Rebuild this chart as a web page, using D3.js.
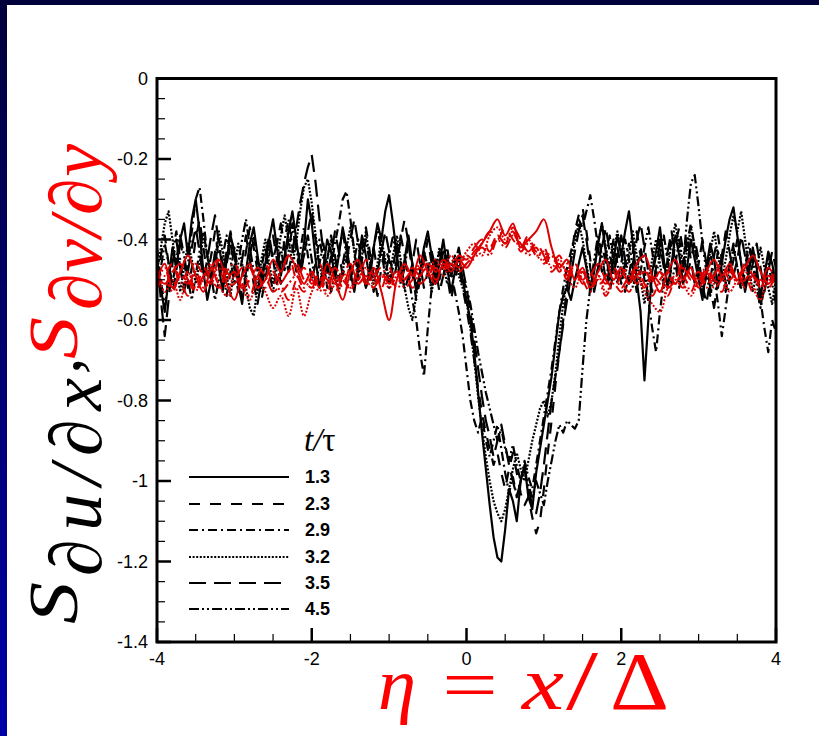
<!DOCTYPE html>
<html><head><meta charset="utf-8">
<script src="https://cdn.jsdelivr.net/npm/d3@7"></script>
<style>
html,body{margin:0;padding:0;}
body{width:819px;height:736px;overflow:hidden;background:linear-gradient(#00003a,#0000a8);}
</style></head>
<body>
<svg id="chart" width="819" height="736"></svg>
<script>
// ---- data ----
// black curves sampled every 0.05 in eta, red curves every 0.1
const etaU = d3.range(161).map(i => +(-4 + i * 0.05).toFixed(2));
const etaV = d3.range(81).map(i => +(-4 + i * 0.1).toFixed(1));
const times = ["1.3", "2.3", "2.9", "3.2", "3.5", "4.5"];
const xTicks = [-4, -2, 0, 2, 4];
const yTicks = [0, -0.2, -0.4, -0.6, -0.8, -1, -1.2, -1.4];

const su_13 = [
 -0.46,-0.52,-0.58,-0.50,-0.42,-0.47,-0.40,-0.36,-0.44,-0.35,
 -0.30,-0.38,-0.48,-0.55,-0.50,-0.43,-0.47,-0.53,-0.45,-0.39,
 -0.43,-0.51,-0.56,-0.48,-0.41,-0.37,-0.44,-0.50,-0.46,-0.40,
 -0.35,-0.42,-0.49,-0.44,-0.38,-0.33,-0.40,-0.47,-0.41,-0.30,
 -0.36,-0.45,-0.52,-0.47,-0.40,-0.43,-0.50,-0.44,-0.37,-0.42,
 -0.48,-0.53,-0.46,-0.39,-0.44,-0.50,-0.42,-0.36,-0.40,-0.33,
 -0.29,-0.36,-0.44,-0.50,-0.45,-0.39,-0.46,-0.53,-0.48,-0.42,
 -0.38,-0.44,-0.51,-0.46,-0.40,-0.47,-0.53,-0.48,-0.44,-0.50,
 -0.55,-0.60,-0.68,-0.78,-0.88,-0.97,-1.06,-1.14,-1.19,-1.20,
 -1.12,-1.02,-1.05,-1.10,-1.00,-0.96,-1.04,-1.07,-0.98,-0.92,
 -0.86,-0.80,-0.74,-0.66,-0.58,-0.54,-0.52,-0.55,-0.50,-0.46,
 -0.42,-0.47,-0.53,-0.48,-0.41,-0.36,-0.43,-0.50,-0.45,-0.39,
 -0.44,-0.38,-0.33,-0.41,-0.50,-0.58,-0.75,-0.60,-0.48,-0.43,
 -0.37,-0.45,-0.52,-0.46,-0.39,-0.44,-0.51,-0.47,-0.40,-0.45,
 -0.50,-0.55,-0.47,-0.41,-0.45,-0.52,-0.46,-0.40,-0.35,-0.32,
 -0.39,-0.46,-0.53,-0.48,-0.42,-0.47,-0.54,-0.49,-0.43,-0.46,
 -0.51];
const su_23 = [
 -0.50,-0.44,-0.39,-0.46,-0.53,-0.48,-0.41,-0.45,-0.52,-0.47,
 -0.40,-0.35,-0.42,-0.49,-0.44,-0.38,-0.45,-0.51,-0.46,-0.41,
 -0.47,-0.53,-0.49,-0.43,-0.37,-0.42,-0.48,-0.55,-0.50,-0.44,
 -0.39,-0.45,-0.51,-0.46,-0.40,-0.36,-0.43,-0.49,-0.44,-0.38,
 -0.33,-0.40,-0.47,-0.52,-0.45,-0.39,-0.44,-0.50,-0.46,-0.41,
 -0.46,-0.52,-0.48,-0.42,-0.37,-0.43,-0.49,-0.54,-0.47,-0.42,
 -0.45,-0.51,-0.46,-0.40,-0.35,-0.41,-0.48,-0.55,-0.50,-0.45,
 -0.40,-0.46,-0.52,-0.48,-0.43,-0.49,-0.55,-0.50,-0.46,-0.52,
 -0.57,-0.63,-0.70,-0.77,-0.83,-0.88,-0.92,-0.96,-0.93,-0.98,
 -1.02,-0.97,-0.93,-0.98,-1.03,-1.06,-1.04,-1.09,-1.13,-1.10,
 -1.02,-0.93,-0.85,-0.76,-0.68,-0.60,-0.52,-0.45,-0.38,-0.34,
 -0.32,-0.38,-0.45,-0.51,-0.47,-0.41,-0.46,-0.53,-0.48,-0.42,
 -0.47,-0.53,-0.49,-0.43,-0.38,-0.44,-0.50,-0.55,-0.49,-0.44,
 -0.40,-0.46,-0.52,-0.47,-0.41,-0.37,-0.43,-0.49,-0.45,-0.40,
 -0.45,-0.51,-0.56,-0.50,-0.44,-0.39,-0.45,-0.51,-0.46,-0.41,
 -0.47,-0.53,-0.48,-0.42,-0.46,-0.52,-0.57,-0.50,-0.44,-0.48,
 -0.53];
const su_29 = [
 -0.42,-0.50,-0.57,-0.49,-0.43,-0.38,-0.45,-0.52,-0.46,-0.38,
 -0.30,-0.27,-0.35,-0.44,-0.51,-0.46,-0.40,-0.47,-0.54,-0.48,
 -0.42,-0.48,-0.55,-0.50,-0.44,-0.39,-0.46,-0.52,-0.47,-0.41,
 -0.45,-0.51,-0.46,-0.40,-0.35,-0.42,-0.48,-0.43,-0.37,-0.44,
 -0.50,-0.46,-0.40,-0.45,-0.52,-0.47,-0.41,-0.36,-0.30,-0.28,
 -0.35,-0.43,-0.50,-0.45,-0.40,-0.46,-0.53,-0.48,-0.42,-0.46,
 -0.52,-0.47,-0.41,-0.46,-0.53,-0.49,-0.55,-0.60,-0.68,-0.74,
 -0.62,-0.52,-0.45,-0.50,-0.46,-0.42,-0.48,-0.53,-0.58,-0.64,
 -0.72,-0.80,-0.85,-0.88,-0.84,-0.90,-0.94,-0.90,-0.86,-0.92,
 -0.98,-1.03,-0.99,-1.04,-1.00,-0.95,-0.99,-1.02,-0.96,-0.90,
 -0.84,-0.78,-0.72,-0.65,-0.58,-0.52,-0.47,-0.43,-0.39,-0.35,
 -0.37,-0.33,-0.29,-0.35,-0.42,-0.48,-0.44,-0.39,-0.45,-0.51,
 -0.46,-0.40,-0.45,-0.52,-0.48,-0.42,-0.47,-0.55,-0.62,-0.68,
 -0.58,-0.50,-0.45,-0.40,-0.46,-0.52,-0.47,-0.41,-0.36,-0.42,
 -0.48,-0.54,-0.49,-0.43,-0.49,-0.56,-0.64,-0.57,-0.50,-0.45,
 -0.40,-0.46,-0.52,-0.47,-0.43,-0.49,-0.55,-0.62,-0.68,-0.60,
 -0.63];
const su_32 = [
 -0.48,-0.42,-0.36,-0.33,-0.40,-0.47,-0.53,-0.47,-0.41,-0.45,
 -0.51,-0.46,-0.39,-0.44,-0.50,-0.45,-0.38,-0.43,-0.49,-0.54,
 -0.47,-0.41,-0.46,-0.52,-0.57,-0.59,-0.52,-0.45,-0.40,-0.46,
 -0.51,-0.45,-0.39,-0.34,-0.40,-0.46,-0.41,-0.33,-0.27,-0.25,
 -0.31,-0.39,-0.46,-0.51,-0.45,-0.40,-0.47,-0.53,-0.48,-0.42,
 -0.37,-0.43,-0.49,-0.44,-0.38,-0.45,-0.51,-0.46,-0.40,-0.45,
 -0.50,-0.44,-0.39,-0.45,-0.52,-0.57,-0.60,-0.54,-0.48,-0.43,
 -0.47,-0.53,-0.48,-0.42,-0.46,-0.51,-0.47,-0.44,-0.49,-0.52,
 -0.55,-0.62,-0.70,-0.79,-0.87,-0.94,-1.00,-1.05,-1.08,-1.10,
 -1.07,-1.02,-0.97,-0.93,-0.97,-1.00,-0.95,-0.90,-0.86,-0.82,
 -0.80,-0.84,-0.80,-0.73,-0.64,-0.56,-0.50,-0.45,-0.41,-0.36,
 -0.40,-0.46,-0.52,-0.47,-0.41,-0.36,-0.42,-0.48,-0.43,-0.38,
 -0.43,-0.49,-0.44,-0.38,-0.44,-0.50,-0.56,-0.50,-0.45,-0.40,
 -0.46,-0.52,-0.47,-0.41,-0.36,-0.42,-0.48,-0.43,-0.37,-0.42,
 -0.47,-0.53,-0.48,-0.43,-0.38,-0.44,-0.50,-0.45,-0.39,-0.34,
 -0.38,-0.33,-0.40,-0.47,-0.53,-0.48,-0.42,-0.47,-0.52,-0.56,
 -0.50];
const su_35 = [
 -0.44,-0.55,-0.64,-0.55,-0.46,-0.40,-0.47,-0.53,-0.48,-0.42,
 -0.37,-0.43,-0.50,-0.45,-0.39,-0.34,-0.41,-0.48,-0.43,-0.38,
 -0.44,-0.50,-0.45,-0.39,-0.45,-0.51,-0.56,-0.50,-0.44,-0.39,
 -0.45,-0.41,-0.36,-0.42,-0.48,-0.43,-0.37,-0.31,-0.26,-0.22,
 -0.19,-0.26,-0.35,-0.43,-0.49,-0.44,-0.38,-0.43,-0.49,-0.45,
 -0.40,-0.35,-0.41,-0.47,-0.52,-0.47,-0.42,-0.48,-0.43,-0.38,
 -0.43,-0.49,-0.45,-0.39,-0.44,-0.50,-0.46,-0.40,-0.46,-0.52,
 -0.48,-0.43,-0.47,-0.53,-0.49,-0.44,-0.49,-0.46,-0.42,-0.47,
 -0.52,-0.58,-0.65,-0.72,-0.79,-0.85,-0.89,-0.94,-0.90,-0.86,
 -0.91,-0.96,-1.00,-1.04,-1.00,-0.97,-1.02,-1.06,-1.08,-1.03,
 -0.96,-0.88,-0.80,-0.74,-0.68,-0.61,-0.55,-0.49,-0.43,-0.38,
 -0.34,-0.40,-0.47,-0.53,-0.48,-0.42,-0.37,-0.43,-0.49,-0.44,
 -0.39,-0.45,-0.51,-0.46,-0.40,-0.36,-0.42,-0.48,-0.53,-0.47,
 -0.41,-0.47,-0.43,-0.38,-0.44,-0.50,-0.45,-0.39,-0.45,-0.51,
 -0.46,-0.40,-0.46,-0.52,-0.57,-0.50,-0.44,-0.38,-0.43,-0.49,
 -0.45,-0.39,-0.44,-0.50,-0.46,-0.41,-0.47,-0.53,-0.48,-0.43,
 -0.47];
const su_45 = [
 -0.52,-0.47,-0.41,-0.46,-0.51,-0.45,-0.39,-0.44,-0.50,-0.55,
 -0.49,-0.43,-0.38,-0.44,-0.49,-0.55,-0.50,-0.44,-0.39,-0.45,
 -0.51,-0.46,-0.40,-0.35,-0.42,-0.48,-0.53,-0.47,-0.42,-0.48,
 -0.53,-0.47,-0.42,-0.48,-0.43,-0.37,-0.42,-0.48,-0.44,-0.39,
 -0.45,-0.51,-0.46,-0.41,-0.47,-0.53,-0.48,-0.43,-0.38,-0.44,
 -0.50,-0.45,-0.40,-0.46,-0.52,-0.48,-0.42,-0.37,-0.43,-0.49,
 -0.44,-0.39,-0.45,-0.51,-0.47,-0.41,-0.46,-0.52,-0.48,-0.43,
 -0.47,-0.52,-0.48,-0.43,-0.47,-0.44,-0.49,-0.45,-0.48,-0.50,
 -0.52,-0.56,-0.62,-0.68,-0.73,-0.78,-0.82,-0.86,-0.90,-0.87,
 -0.92,-0.95,-0.91,-0.96,-1.00,-0.97,-1.01,-1.04,-1.00,-1.03,
 -1.06,-1.00,-0.95,-0.90,-0.86,-0.88,-0.85,-0.86,-0.87,-0.85,
 -0.72,-0.60,-0.52,-0.45,-0.39,-0.44,-0.50,-0.45,-0.40,-0.46,
 -0.51,-0.46,-0.41,-0.47,-0.53,-0.48,-0.42,-0.37,-0.43,-0.49,
 -0.44,-0.39,-0.45,-0.51,-0.46,-0.40,-0.46,-0.35,-0.26,-0.24,
 -0.32,-0.41,-0.48,-0.54,-0.49,-0.43,-0.48,-0.53,-0.47,-0.42,
 -0.47,-0.52,-0.47,-0.41,-0.46,-0.51,-0.57,-0.52,-0.46,-0.51,
 -0.56];

const sv_13 = [-0.50,-0.46,-0.52,-0.48,-0.44,-0.49,-0.53,-0.47,-0.45,-0.51,
 -0.55,-0.49,-0.46,-0.52,-0.50,-0.45,-0.48,-0.44,-0.47,-0.51,
 -0.48,-0.52,-0.46,-0.50,-0.55,-0.48,-0.45,-0.51,-0.47,-0.53,
 -0.60,-0.50,-0.46,-0.49,-0.44,-0.48,-0.51,-0.46,-0.48,-0.45,
 -0.47,-0.44,-0.41,-0.38,-0.35,-0.39,-0.36,-0.42,-0.40,-0.38,
 -0.35,-0.42,-0.47,-0.45,-0.50,-0.47,-0.52,-0.48,-0.45,-0.50,
 -0.47,-0.51,-0.46,-0.44,-0.49,-0.53,-0.48,-0.45,-0.50,-0.47,
 -0.52,-0.48,-0.45,-0.49,-0.46,-0.50,-0.47,-0.44,-0.48,-0.51,-0.48];
const sv_23 = [-0.48,-0.52,-0.47,-0.50,-0.54,-0.46,-0.49,-0.51,-0.45,-0.48,
 -0.50,-0.47,-0.52,-0.49,-0.46,-0.51,-0.48,-0.44,-0.50,-0.53,
 -0.49,-0.46,-0.51,-0.48,-0.52,-0.47,-0.50,-0.45,-0.49,-0.52,
 -0.47,-0.51,-0.48,-0.52,-0.49,-0.47,-0.50,-0.48,-0.46,-0.48,
 -0.46,-0.43,-0.41,-0.38,-0.40,-0.37,-0.40,-0.42,-0.39,-0.43,
 -0.42,-0.46,-0.44,-0.48,-0.47,-0.50,-0.48,-0.52,-0.49,-0.47,
 -0.50,-0.53,-0.49,-0.47,-0.51,-0.48,-0.52,-0.50,-0.46,-0.49,
 -0.51,-0.47,-0.50,-0.53,-0.48,-0.50,-0.46,-0.49,-0.52,-0.48,-0.50];
const sv_29 = [-0.52,-0.49,-0.46,-0.51,-0.48,-0.53,-0.47,-0.50,-0.52,-0.48,
 -0.46,-0.51,-0.54,-0.49,-0.52,-0.48,-0.51,-0.55,-0.50,-0.47,
 -0.51,-0.49,-0.53,-0.47,-0.50,-0.52,-0.48,-0.51,-0.49,-0.47,
 -0.50,-0.48,-0.52,-0.50,-0.47,-0.49,-0.46,-0.47,-0.45,-0.47,
 -0.44,-0.45,-0.41,-0.42,-0.39,-0.41,-0.38,-0.43,-0.41,-0.44,
 -0.45,-0.43,-0.47,-0.49,-0.46,-0.50,-0.53,-0.49,-0.51,-0.48,
 -0.52,-0.49,-0.47,-0.51,-0.54,-0.50,-0.48,-0.51,-0.49,-0.53,
 -0.49,-0.52,-0.48,-0.50,-0.47,-0.51,-0.49,-0.53,-0.50,-0.52,-0.49];
const sv_32 = [-0.47,-0.53,-0.50,-0.55,-0.48,-0.52,-0.50,-0.46,-0.51,-0.54,
 -0.49,-0.52,-0.55,-0.50,-0.53,-0.57,-0.54,-0.59,-0.52,-0.59,
 -0.53,-0.50,-0.54,-0.51,-0.48,-0.52,-0.50,-0.47,-0.51,-0.49,
 -0.52,-0.49,-0.47,-0.50,-0.46,-0.48,-0.45,-0.47,-0.44,-0.46,
 -0.43,-0.41,-0.44,-0.39,-0.37,-0.40,-0.38,-0.42,-0.40,-0.44,
 -0.43,-0.47,-0.45,-0.49,-0.52,-0.48,-0.51,-0.49,-0.53,-0.50,
 -0.48,-0.51,-0.49,-0.53,-0.56,-0.58,-0.52,-0.49,-0.51,-0.54,
 -0.50,-0.47,-0.51,-0.49,-0.53,-0.50,-0.48,-0.52,-0.55,-0.50,-0.51];
const sv_35 = [-0.49,-0.51,-0.48,-0.46,-0.50,-0.53,-0.49,-0.47,-0.51,-0.50,
 -0.48,-0.52,-0.50,-0.47,-0.49,-0.53,-0.51,-0.48,-0.46,-0.50,
 -0.52,-0.48,-0.50,-0.53,-0.49,-0.46,-0.51,-0.49,-0.52,-0.48,
 -0.51,-0.48,-0.50,-0.47,-0.49,-0.46,-0.48,-0.45,-0.47,-0.44,
 -0.45,-0.42,-0.40,-0.43,-0.39,-0.41,-0.37,-0.40,-0.43,-0.41,
 -0.44,-0.48,-0.46,-0.50,-0.47,-0.51,-0.49,-0.46,-0.50,-0.52,
 -0.49,-0.47,-0.51,-0.48,-0.50,-0.53,-0.49,-0.51,-0.47,-0.50,
 -0.48,-0.51,-0.49,-0.46,-0.50,-0.48,-0.52,-0.49,-0.51,-0.47,-0.50];
const sv_45 = [-0.51,-0.47,-0.53,-0.49,-0.51,-0.48,-0.52,-0.50,-0.47,-0.52,
 -0.51,-0.49,-0.47,-0.52,-0.50,-0.48,-0.53,-0.51,-0.49,-0.52,
 -0.50,-0.53,-0.48,-0.51,-0.49,-0.53,-0.47,-0.50,-0.52,-0.49,
 -0.49,-0.52,-0.50,-0.48,-0.51,-0.49,-0.47,-0.49,-0.46,-0.48,
 -0.46,-0.44,-0.42,-0.44,-0.40,-0.42,-0.39,-0.41,-0.44,-0.42,
 -0.46,-0.44,-0.48,-0.46,-0.50,-0.48,-0.52,-0.50,-0.54,-0.51,
 -0.53,-0.50,-0.48,-0.52,-0.49,-0.51,-0.54,-0.50,-0.52,-0.49,
 -0.51,-0.48,-0.52,-0.50,-0.47,-0.51,-0.50,-0.48,-0.52,-0.49,-0.51];

const blackSeries = [su_13, su_23, su_29, su_32, su_35, su_45];
const redSeries = [sv_13, sv_23, sv_29, sv_32, sv_35, sv_45];
const dashes = ["none", "11,10", "9,4,2,4", "2,1.6", "17,8", "10,3,2,3,2,3"];

// ---- drawing ----
const svg = d3.select("#chart");
svg.append("rect").attr("x", 7).attr("y", 5).attr("width", 812).attr("height", 731).attr("fill", "#ffffff");

const L = 157, R = 776, T = 78.5, B = 642;
const x = d3.scaleLinear().domain([-4, 4]).range([L, R]);
const y = d3.scaleLinear().domain([-1.4, 0]).range([B, T]);

svg.append("clipPath").attr("id", "clip").append("rect")
  .attr("x", L).attr("y", T).attr("width", R - L).attr("height", B - T);

const lineU = d3.line().x((d, i) => x(etaU[i])).y(d => y(d));
const lineV = d3.line().x((d, i) => x(etaV[i])).y(d => y(d)).curve(d3.curveCatmullRom);
const plot = svg.append("g").attr("clip-path", "url(#clip)");

blackSeries.forEach((s, k) => {
  plot.append("path").datum(s).attr("d", lineU)
    .attr("fill", "none").attr("stroke", "#000").attr("stroke-width", 2.2)
    .attr("stroke-dasharray", dashes[k]).attr("stroke-linejoin", "round");
});
redSeries.forEach((s, k) => {
  plot.append("path").datum(s).attr("d", lineV)
    .attr("fill", "none").attr("stroke", "#dd0000").attr("stroke-width", 2)
    .attr("stroke-dasharray", dashes[k]).attr("stroke-linejoin", "round");
});

// axes (ticks inward on left and bottom)
const font = "'Liberation Sans', Arial, sans-serif";
const yMinor = d3.range(0, 29).map(i => -i * 0.05);
const xMinor = d3.range(0, 17).map(i => -4 + i * 0.5);
const ax = svg.append("g");
xMinor.forEach(v => {
  const major = xTicks.some(t => Math.abs(t - v) < 1e-6);
  ax.append("line").attr("x1", x(v)).attr("x2", x(v)).attr("y1", B).attr("y2", B - (major ? 14 : 8))
    .attr("stroke", "#000").attr("stroke-width", major ? 2.5 : 1.2);
});
yMinor.forEach(v => {
  const major = yTicks.some(t => Math.abs(t - v) < 1e-6);
  ax.append("line").attr("y1", y(v)).attr("y2", y(v)).attr("x1", L).attr("x2", L + (major ? 14 : 8))
    .attr("stroke", "#000").attr("stroke-width", major ? 2.5 : 1.2);
});
ax.append("rect").attr("x", L).attr("y", T).attr("width", R - L).attr("height", B - T)
  .attr("fill", "none").attr("stroke", "#000").attr("stroke-width", 3);

yTicks.forEach(v => {
  ax.append("text").attr("x", 148).attr("y", y(v)).attr("text-anchor", "end")
    .attr("dominant-baseline", "central").attr("font-family", font).attr("font-size", 18)
    .text(String(v));
});
xTicks.forEach(v => {
  ax.append("text").attr("x", x(v)).attr("y", 665).attr("text-anchor", "middle")
    .attr("font-family", font).attr("font-size", 18).text(String(v));
});

// legend
const leg = svg.append("g");
leg.append("text").attr("x", 304).attr("y", 451).attr("font-family", "'Liberation Serif', serif")
  .attr("font-size", 33)
  .call(t => { t.append("tspan").attr("font-style", "italic").text("t/"); t.append("tspan").text("τ"); });
const legY = [477, 504, 530, 557, 583, 609];
times.forEach((lab, k) => {
  leg.append("line").attr("x1", 189).attr("x2", 289).attr("y1", legY[k]).attr("y2", legY[k])
    .attr("stroke", "#000").attr("stroke-width", 2).attr("stroke-dasharray", dashes[k]);
  leg.append("text").attr("x", 305).attr("y", legY[k]).attr("dominant-baseline", "central")
    .attr("font-family", font).attr("font-weight", "bold").attr("font-size", 18).text(lab);
});

// y axis label (rotated)
const serif = "'Liberation Serif', 'DejaVu Serif', serif";
const yl = svg.append("g").attr("transform", "rotate(-90)");
function lab(txt, a, b, size, color, len, adj) {
  const t = yl.append("text").attr("x", a).attr("y", b).attr("font-family", serif)
    .attr("font-style", "italic").attr("font-size", size).attr("fill", color).text(txt);
  if (len) t.attr("textLength", len).attr("lengthAdjust", adj || "spacing");
  return t;
}
lab("S", -624, 77, 70, "#000", 42, "spacingAndGlyphs");
lab("∂u/∂x", -576, 101, 74, "#000", 198);
lab(",", -374, 80, 66, "#000");
lab("S", -359, 77, 70, "#ff0000", 42, "spacingAndGlyphs");
lab("∂v/∂y", -310, 101, 74, "#ff0000", 166);

// x axis label
const xs = "'Liberation Serif', serif";
function xlab(txt, px, size, italic, len) {
  const t = svg.append("text").attr("x", px).attr("y", 709).attr("font-family", xs)
    .attr("font-size", size).attr("fill", "#ff0000").attr("font-style", italic ? "italic" : "normal").text(txt);
  if (len) t.attr("textLength", len).attr("lengthAdjust", "spacingAndGlyphs");
}
xlab("η", 378, 74, true, 38);
xlab("=", 442, 72, false, 56);
xlab("x", 522, 76, true, 42);
xlab("/", 566, 84, false, 32);
xlab("Δ", 610, 82, false, 59);
</script>
</body></html>
